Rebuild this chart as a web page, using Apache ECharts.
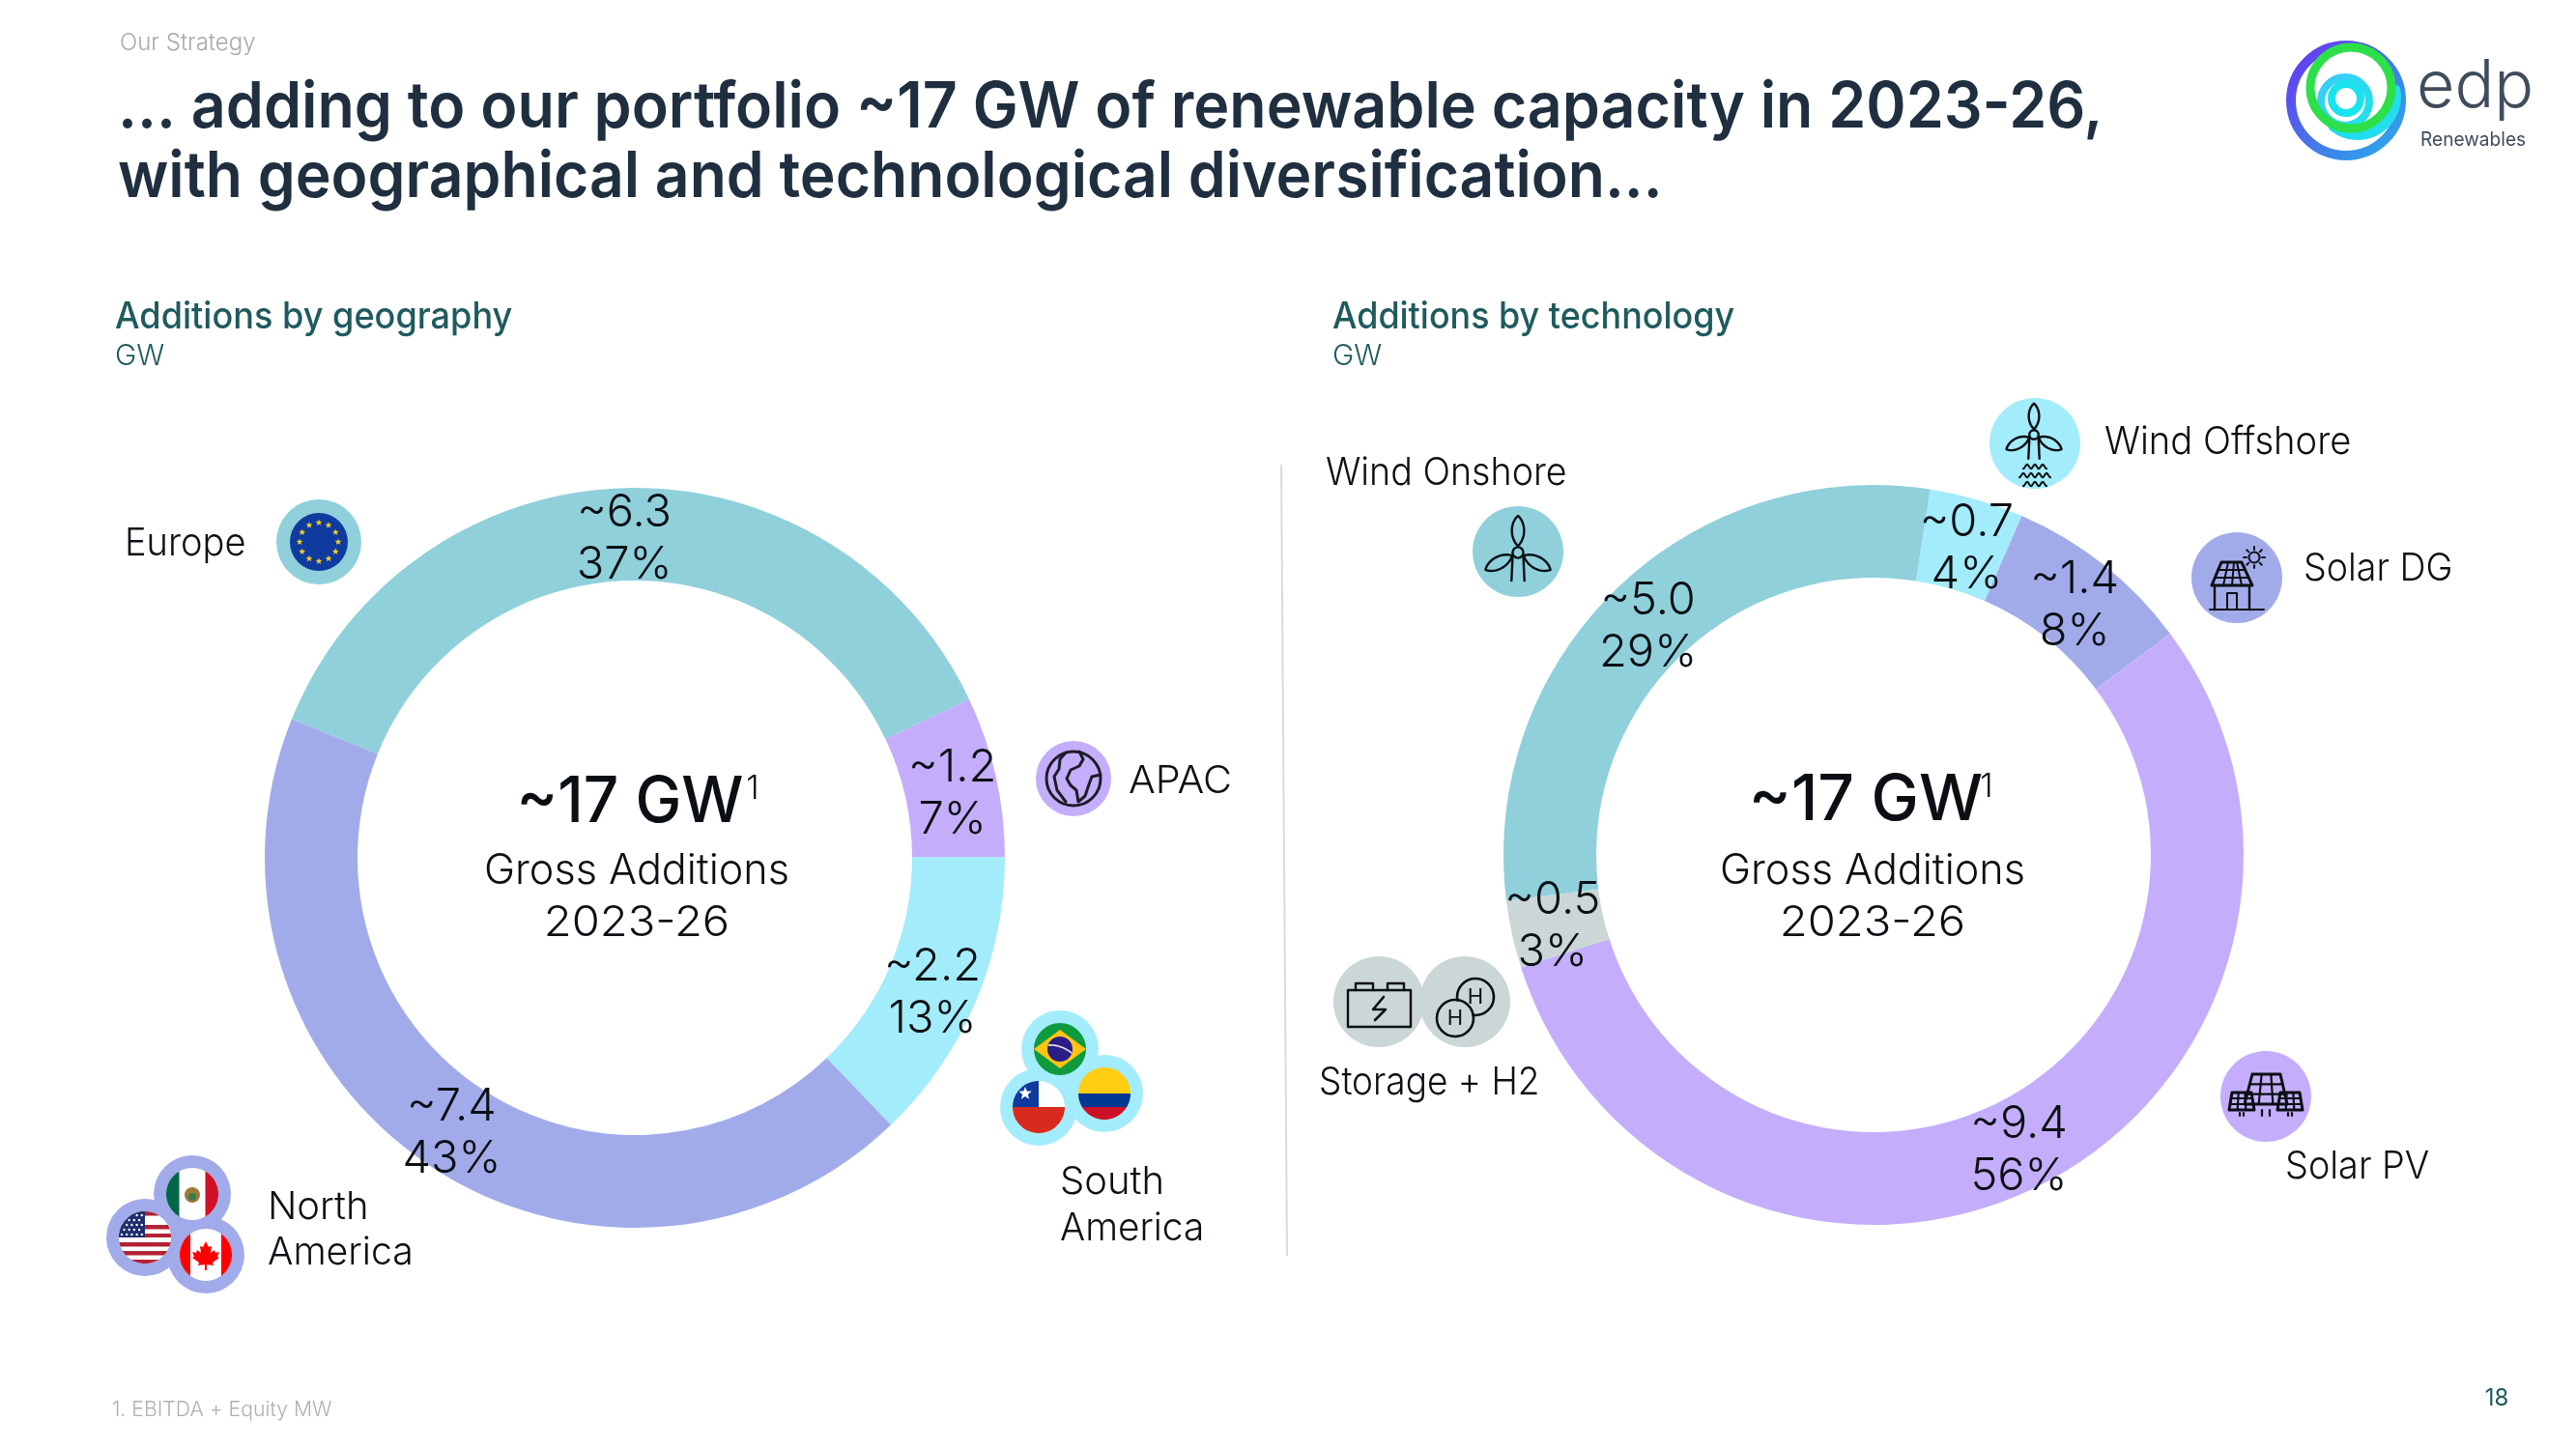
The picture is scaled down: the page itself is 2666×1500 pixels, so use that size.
<!DOCTYPE html>
<html><head><meta charset="utf-8">
<style>html,body{margin:0;padding:0;background:#fff}#c{width:2666px;height:1500px}</style>
<script src="https://cdn.jsdelivr.net/npm/echarts@6/dist/echarts.min.js"></script>
</head><body><div id="c"></div>
<script>
/* Additions by geography */
const geoNames = ['Europe','APAC','South America','North America'];
const geoValues = [6.3,1.2,2.2,7.4];
const geoShares = ['37%','7%','13%','43%'];
const geoColors = ['#8FD0DB','#C4AEFB','#A3ECFB','#A2ABEA'];
const geoOffsets = [[-1,8],[-1,8],[-3,8],[0,5]];
/* Additions by technology */
const techNames = ['Wind Offshore','Solar DG','Solar PV','Storage + H2','Wind Onshore'];
const techValues = [0.7,1.4,9.4,0.5,5.0];
const techShares = ['4%','8%','56%','3%','29%'];
const techColors = ['#A3ECFB','#A2ABEA','#C4AEFB','#CBD6D6','#8FD0DB'];
const techOffsets = [[2,7],[-2,7],[-4,5],[-2,1],[2,6]];

const FONT='Inter', INK='#0B0F14';
const chart = echarts.init(document.getElementById('c'),null,{renderer:'canvas'});

function pie(names,values,shares,colors,offsets,center,start){
  return {type:'pie',center:center,radius:[287,383],startAngle:start,clockwise:true,silent:true,
    avoidLabelOverlap:false,animation:false,
    data:names.map((n,i)=>({name:n,value:values[i],itemStyle:{color:colors[i]}})),
    label:{show:true,position:'inside',fontFamily:FONT,fontWeight:300,fontSize:47,lineHeight:54,color:INK,align:'center',
      formatter:p=>'~'+p.value.toFixed(1)+'\n'+shares[p.dataIndex]},
    labelLine:{show:false},
    labelLayout:p=>({dx:offsets[p.dataIndex][0],dy:offsets[p.dataIndex][1]})};
}
function txt(x,y,s,size,color,o){o=Object.assign({},o||{});const sx=o.sx||1;delete o.sx;
  return {type:'text',silent:true,x:x,y:y+3,scaleX:sx,z:5,style:Object.assign({text:s,fontFamily:FONT,fontSize:size,fill:color,fontWeight:300,align:'left',verticalAlign:'middle'},o)};}
function circ(c,r,fill){return {type:'circle',silent:true,z:3,shape:{cx:c[0],cy:c[1],r:r},style:{fill:fill}};}
function ring(c,r,w,stroke){return {type:'circle',silent:true,z:4,shape:{cx:c[0],cy:c[1],r:r},style:{fill:'none',stroke:stroke,lineWidth:w}};}
function poly(pts,fill,stroke,w){return {type:'polygon',silent:true,z:4,shape:{points:pts},style:{fill:fill||'none',stroke:stroke||'none',lineWidth:w||0,lineJoin:'round'}};}
function pl(pts,stroke,w){return {type:'polyline',silent:true,z:4,shape:{points:pts},style:{fill:'none',stroke:stroke||INK,lineWidth:w||2.4,lineCap:'round',lineJoin:'round'}};}
function arcPts(c,r,a0,a1){const o=[];for(let i=0;i<=24;i++){const a=(a0+(a1-a0)*i/24)*Math.PI/180;o.push([c[0]+r*Math.cos(a),c[1]+r*Math.sin(a)]);}return o;}
function bez(p0,p1,p2,p3){const o=[];for(let i=0;i<=16;i++){const t=i/16,u=1-t;o.push([0,1].map(k=>u*u*u*p0[k]+3*u*u*t*p1[k]+3*u*t*t*p2[k]+t*t*t*p3[k]));}return o;}
/* band of a flag disc between two offsets measured from its centre */
function hb(c,r,y1,y2,fill){const a0=Math.asin(y1/r)*180/Math.PI,a1=Math.asin(y2/r)*180/Math.PI;
  return poly(arcPts(c,r,a0,a1).concat(arcPts(c,r,180-a1,180-a0)),fill);}
function vb(c,r,x1,x2,fill){const a0=Math.acos(x1/r)*180/Math.PI,a1=Math.acos(x2/r)*180/Math.PI;
  return poly(arcPts(c,r,-a0,-a1).concat(arcPts(c,r,a1,a0)),fill);}
function star(c,r,fill){const o=[];for(let i=0;i<10;i++){const a=-Math.PI/2+i*Math.PI/5,q=i%2?r*0.42:r;o.push([c[0]+q*Math.cos(a),c[1]+q*Math.sin(a)]);}return poly(o,fill);}
function turbine(c,s){
  const blade=d=>{const r=d*Math.PI/180,k=Math.cos(r),n=Math.sin(r),p=(u,v)=>[c[0]+(u*k-v*n)*s,c[1]+(u*n+v*k)*s];
    return pl(bez(p(6,0),p(14,-8),p(28,-7),p(34,0)).concat(bez(p(34,0),p(28,7),p(14,8),p(6,0))),INK,2.4);};
  return [blade(-90),blade(28),blade(152),ring(c,5*s,2.4,INK),
    pl([[c[0]-5*s,c[1]+5*s],[c[0]-6*s,c[1]+26*s]]),pl([[c[0]+5*s,c[1]+5*s],[c[0]+6*s,c[1]+26*s]])];}
function wave(x,y,n){const o=[];for(let i=0;i<=n*8;i++){o.push([x+i,y+2.2*Math.cos(i/8*2*Math.PI)]);}return pl(o,INK,2);}

const G=[];
/* header and footer */
G.push(txt(124,42,'Our Strategy',24,'#A9A9A9'));
G.push(txt(122,109,'... adding to our portfolio ~17 GW of renewable capacity in 2023-26,',66,'#1F2F40',{fontWeight:600,sx:0.95}));
G.push(txt(122,181,'with geographical and technological diversification...',66,'#1F2F40',{fontWeight:600,sx:0.945}));
G.push(txt(119,326,'Additions by geography',38,'#1F5A5E',{fontWeight:500,sx:0.95}));
G.push(txt(119,366,'GW',30,'#1F5A5E'));
G.push(txt(1379,326,'Additions by technology',38,'#1F5A5E',{fontWeight:500,sx:0.945}));
G.push(txt(1379,366,'GW',30,'#1F5A5E'));
G.push({type:'line',silent:true,shape:{x1:1326,y1:481,x2:1332,y2:1300},style:{stroke:'#DADADA',lineWidth:2}});
G.push(txt(116,1456,'1. EBITDA + Equity MW',22,'#B0B0B0',{sx:0.965}));
G.push(txt(2584,1445,'18',24,'#1F5A5E',{fontWeight:400,align:'center'}));

/* logo */
const grad=(a,b,x0,y0,x1,y1)=>({type:'linear',x:x0,y:y0,x2:x1,y2:y1,colorStops:[{offset:0,color:a},{offset:1,color:b}]});
G.push(ring([2428,104],57,10,grad('#6B2FF0','#25B4E8',0,0,1,1)));
G.push(pl(arcPts([2440,100],40,-10,130),'#22DDF0',10));
G.push(ring([2427,105],25,8,grad('#3FC8FF','#1BE5E5',0,0,1,1)));
G.push(ring([2433,91],42,9,'#2DE04A'));
G.push(ring([2428,102],15,8,'#1BE3EE'));
G.push(txt(2501,88,'edp',68,'#3F4C5C',{fontWeight:300}));
G.push(txt(2505,142,'Renewables',20,'#3F4C5C',{fontWeight:400,sx:0.955}));

/* centre captions */
[[652,779,0.97],[1931,2056,1]].forEach(([cx,sx,sc],i)=>{
  const y=i?826:828, cc=i?1938:659;
  G.push(txt(cx,y,'~17 GW',66,INK,{fontWeight:500,align:'center',sx:sc}));
  G.push(txt(sx,y-14,'1',34,INK,{fontWeight:300,align:'center'}));
  G.push(txt(cc,899,'Gross Additions',44,INK,{align:'center',sx:0.98}));
  G.push(txt(cc,953,'2023-26',44,INK,{align:'center',sx:1.07}));
});

/* callout names: text, x, y, horizontal fit */
[['Europe',129,560,0.95],['APAC',1168,806,1.03],['North',277,1247,1],['America',277,1294,0.98],['South',1097,1221,1],['America',1097,1269,0.97],
 ['Wind Onshore',1372,487,0.94],['Wind Offshore',2178,455,0.955],['Solar DG',2384,586,0.94],['Solar PV',2365,1205,0.945],['Storage + H2',1365,1118,0.925]]
 .forEach(a=>G.push(txt(a[1],a[2],a[0],40,INK,{sx:a[3]})));

/* Europe */
const eu=[330,561];
G.push(circ(eu,44,'#8FD0DB'),circ(eu,30,'#0F3A9E'));
for(let i=0;i<12;i++){const a=i*Math.PI/6;G.push(star([eu[0]+20*Math.cos(a),eu[1]+20*Math.sin(a)],3.6,'#F5D020'));}
/* APAC globe */
const gl=[1111,806];
G.push(circ(gl,39,'#C4AEFB'),ring(gl,28,3,'#1C1C28'));
G.push(pl([[1103,779],[1097,786],[1096,796],[1091,804],[1094,818],[1103,830]],'#1C1C28',3));
G.push(pl([[1117,778],[1121,786],[1117,793],[1108,797],[1104,806],[1108,813],[1114,818],[1116,830],[1123,824],[1127,812],[1130,804],[1139,802]],'#1C1C28',3));

/* North America flags */
const mx=[199,1236],us=[150,1281],ca=[213,1299],NAc='#A2ABEA';
G.push(circ(mx,40,NAc),circ(us,40,NAc),circ(ca,40,NAc));
G.push(circ(mx,27,'#FFFFFF'),vb(mx,27,-27,-13.5,'#006847'),vb(mx,27,13.5,27,'#CE1126'),
  {type:'circle',silent:true,z:5,shape:{cx:mx[0],cy:mx[1]+1,r:8},style:{fill:'#9C7A3C'}},{type:'circle',silent:true,z:5,shape:{cx:mx[0],cy:mx[1]+3,r:4},style:{fill:'#3E7A4E'}});
G.push(circ(us,27,'#FFFFFF'));
[[-27,-22.5],[-13,-8.5],[-4,0],[5,9.5],[14,18.5],[23,27]].forEach(b=>G.push(hb(us,27,b[0],b[1],'#B22234')));
G.push(poly([[us[0],us[1]]].concat(arcPts(us,27,-90,-180)),'#1E2E6E'));
for(let r=0;r<5;r++)for(let k=0;k<5;k++){const px=us[0]-24+k*5.2+(r%2?2.5:0),py=us[1]-23+r*5;if(Math.hypot(px-us[0],py-us[1])<25&&px<us[0]-1)G.push({type:'circle',silent:true,z:5,shape:{cx:px,cy:py,r:1.2},style:{fill:'#FFFFFF'}});}
G.push(circ(ca,27,'#FFFFFF'),vb(ca,27,-27,-16,'#FF0000'),vb(ca,27,16,27,'#FF0000'));
const mp=[[0,-14],[3,-8],[6,-9],[5,-2],[9,-5],[10,-2],[14,-3],[12,2],[14,3],[7,8],[8,11],[1,10],[1,16],[-1,16],[-1,10],[-8,11],[-7,8],[-14,3],[-12,2],[-14,-3],[-10,-2],[-9,-5],[-5,-2],[-6,-9],[-3,-8]];
G.push(poly(mp.map(p=>[ca[0]+p[0],ca[1]+p[1]]),'#FF0000'));

/* South America flags */
const br=[1097,1086],co=[1143,1132],cl=[1075,1146],SAc='#A3ECFB';
G.push(circ(br,40,SAc),circ(co,40,SAc),circ(cl,40,SAc));
G.push(circ(br,27,'#0F9A3E'),poly([[br[0]-27,br[1]],[br[0],br[1]-20],[br[0]+27,br[1]],[br[0],br[1]+20]],'#FFC512'),
  {type:'circle',silent:true,z:5,shape:{cx:br[0],cy:br[1],r:13},style:{fill:'#2A1E86'}},
  {type:'polyline',silent:true,z:5,shape:{points:bez([br[0]-12,br[1]-4],[br[0]-4,br[1]-5],[br[0]+6,br[1]-1],[br[0]+12,br[1]+4])},style:{fill:'none',stroke:'#E8E8E8',lineWidth:1.6}});
G.push(hb(co,27,-27,0,'#FFCE12'),hb(co,27,0,14,'#003893'),hb(co,27,14,27,'#CE1126'));
G.push(circ(cl,27,'#FFFFFF'),hb(cl,27,0,27,'#D72B1E'),poly([[cl[0],cl[1]]].concat(arcPts(cl,27,-90,-180)),'#0F3A9E'));
G.push(Object.assign(star([cl[0]-14,cl[1]-14],7,'#FFFFFF'),{z:5}));

/* technology icons */
const on=[1571,571],off=[2106,459],dg=[2315,598],pv=[2345,1135],st=[1427,1037],h2=[1516,1037];
G.push(circ(on,47,'#8FD0DB'),...turbine([1571,572],1.12));
G.push(circ(off,47,'#A3ECFB'),...turbine([2105,450],0.95));
G.push(wave(2094,483,3),wave(2090,492,4),wave(2094,501,3));
/* Solar DG */
const L=INK,R=(c,x,y)=>[c[0]+x,c[1]+y];
G.push(circ(dg,47,'#A2ABEA'));
G.push(poly([R(dg,-16,-16),R(dg,5,-16),R(dg,16,8),R(dg,-26,8)],'none',L,3));
G.push(pl([R(dg,-20,-8),R(dg,9,-8)],L,2),pl([R(dg,-23,0),R(dg,12,0)],L,2),pl([R(dg,-9,-16),R(dg,-14,8)],L,2),pl([R(dg,-3,-16),R(dg,-5,8)],L,2),pl([R(dg,0,-16),R(dg,5,8)],L,2));
G.push(pl([R(dg,-23,8),R(dg,-23,33)],L,2.4),pl([R(dg,13,8),R(dg,13,33)],L,2.4),pl([R(dg,-28,33),R(dg,28,33)],L,2),pl([R(dg,-10,33),R(dg,-10,16),R(dg,0,16),R(dg,0,33)],L,2));
G.push(ring(R(dg,18,-21),5.5,2,L));
for(let i=0;i<8;i++){const a=i*Math.PI/4;G.push(pl([R(dg,18+8*Math.cos(a),-21+8*Math.sin(a)),R(dg,18+11*Math.cos(a),-21+11*Math.sin(a))],L,2));}
/* Solar PV */
G.push(circ(pv,47,'#C4AEFB'));
function panel(x0,x1,x2,x3,y0,y1,nx,ny){const o=[poly([R(pv,x0,y0),R(pv,x1,y0),R(pv,x3,y1),R(pv,x2,y1)],'none',L,3)];
  for(let i=1;i<nx;i++){const t=i/nx;o.push(pl([R(pv,x0+(x1-x0)*t,y0),R(pv,x2+(x3-x2)*t,y1)],L,2.2));}
  for(let j=1;j<ny;j++){const t=j/ny,a=x0+(x2-x0)*t,b=x1+(x3-x1)*t,y=y0+(y1-y0)*t;o.push(pl([R(pv,a,y),R(pv,b,y)],L,2.2));}return o;}
G.push(...panel(-14,15,-22,22,-23,8,3,3),...panel(-35,-15,-38,-12,-4,14,3,3),...panel(15,35,12,38,-4,14,3,3));
[-27,-23,-4,4,23,27].forEach((x,i)=>G.push(pl([R(pv,x,(i==2||i==3)?14:17),R(pv,x,20)],L,2.2)));
/* Storage + H2 */
G.push(circ(st,47,'#CBD6D6'),circ(h2,47,'#CBD6D6'));
G.push(poly([R(st,-32,-12),R(st,33,-12),R(st,33,26),R(st,-32,26)],'none',L,2.4));
G.push(pl([R(st,-24,-12),R(st,-24,-19),R(st,-6,-19),R(st,-6,-12)],L,2.4),pl([R(st,9,-12),R(st,9,-19),R(st,26,-19),R(st,26,-12)],L,2.4));
G.push(pl([R(st,5,-5),R(st,-6,8),R(st,7,8),R(st,-4,19)],L,2.6));
G.push(Object.assign(circ(R(h2,11,-5),17.6,'#CBD6D6'),{z:4}),Object.assign(ring(R(h2,11,-5),19,2.6,L),{z:4}));
G.push(Object.assign(circ(R(h2,-10,17),17.6,'#CBD6D6'),{z:4}),Object.assign(ring(R(h2,-10,17),19,2.6,L),{z:4}));
G.push(txt(h2[0]+11,h2[1]-8,'H',22,L,{fontWeight:400,align:'center'}),txt(h2[0]-10,h2[1]+14,'H',22,L,{fontWeight:400,align:'center'}));

chart.setOption({animation:false,backgroundColor:'#FFFFFF',
  series:[pie(geoNames,geoValues,geoShares,geoColors,geoOffsets,[657,888],158),
          pie(techNames,techValues,techShares,techColors,techOffsets,[1939,885],81.2)],
  graphic:{elements:G}});
</script></body></html>
